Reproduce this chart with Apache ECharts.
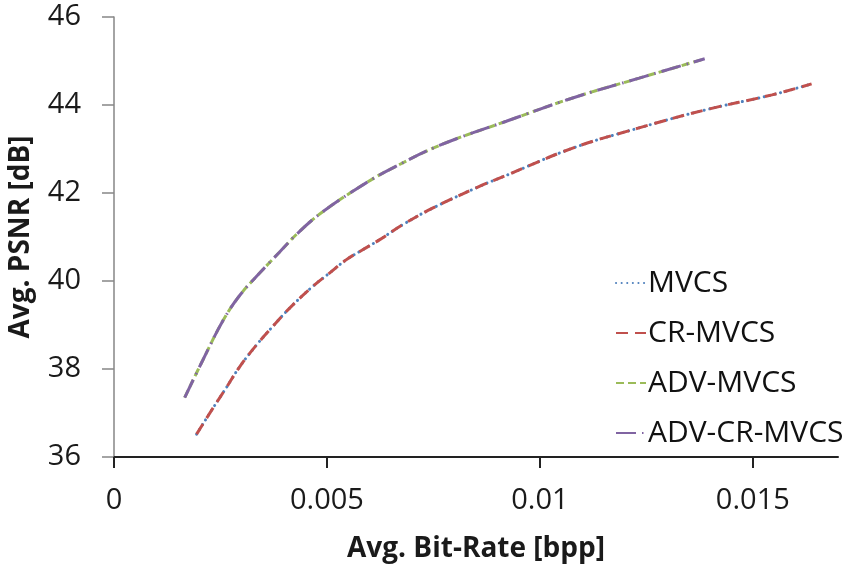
<!DOCTYPE html>
<html>
<head>
<meta charset="utf-8">
<script src="https://cdn.jsdelivr.net/npm/echarts@6/dist/echarts.min.js"></script>
<style>
  html, body { margin: 0; padding: 0; background: #fff; }
  #chart { width: 853px; height: 567px; }
</style>
</head>
<body>
<div id="chart"></div>
<script>
// Rate–distortion curves: average bit-rate (bpp) vs. average PSNR (dB)
const seriesNames = ['MVCS', 'CR-MVCS', 'ADV-MVCS', 'ADV-CR-MVCS'];
const xTickValues = [0, 0.005, 0.01, 0.015];
const yTickValues = [36, 38, 40, 42, 44, 46];

// Baseline schemes
const baseRate = [0.00194, 0.00233, 0.00264, 0.00295, 0.00335, 0.00373, 0.00413, 0.00467,
  0.00506, 0.00545, 0.00584, 0.00624, 0.00678, 0.00749, 0.00858, 0.00921, 0.01077, 0.01233,
  0.01389, 0.01545, 0.01638];
const basePsnr = [36.52, 37.12, 37.58, 38.05, 38.55, 38.97, 39.39, 39.88,
  40.18, 40.48, 40.71, 40.94, 41.28, 41.66, 42.15, 42.40, 43.02, 43.48,
  43.89, 44.23, 44.48];

// Schemes with ADV
const advRate = [0.00166, 0.00209, 0.00256, 0.00295, 0.00342, 0.00389, 0.00436, 0.00491,
  0.00592, 0.00647, 0.00764, 0.00921, 0.01077, 0.01233, 0.01387];
const advPsnr = [37.35, 38.21, 39.10, 39.67, 40.18, 40.66, 41.13, 41.58,
  42.23, 42.53, 43.08, 43.63, 44.16, 44.61, 45.05];

const pairs = (xs, ys) => xs.map((x, i) => [x, ys[i]]);

const FONT = '"Open Sans", "Noto Sans", sans-serif';

const chart = echarts.init(document.getElementById('chart'));
chart.setOption({
  animation: false,
  backgroundColor: '#ffffff',
  grid: { left: 114, right: 15, top: 17, bottom: 110, containLabel: false, outerBoundsMode: 'none' },
  xAxis: {
    type: 'value',
    min: 0,
    max: 0.017,
    interval: 0.005,
    name: 'Avg. Bit-Rate [bpp]',
    nameLocation: 'middle',
    nameGap: 78,
    nameTextStyle: { fontFamily: FONT, fontSize: 28, fontWeight: 'bold', color: '#1a1a1a' },
    axisLine: { lineStyle: { color: '#222', width: 2 } },
    axisTick: { show: true, inside: false, length: 11, customValues: xTickValues,
      lineStyle: { color: '#222', width: 2 } },
    axisLabel: { customValues: xTickValues, margin: 29, fontFamily: FONT, fontSize: 29, color: '#1a1a1a',
      formatter: v => String(v) },
    splitLine: { show: false }
  },
  yAxis: {
    type: 'value',
    min: 36,
    max: 46,
    interval: 2,
    name: 'Avg. PSNR [dB]',
    nameLocation: 'middle',
    nameGap: 79,
    nameRotate: 90,
    nameTextStyle: { fontFamily: FONT, fontSize: 28, fontWeight: 'bold', color: '#1a1a1a' },
    axisLine: { show: true, lineStyle: { color: '#868686', width: 1.5 } },
    axisTick: { show: true, inside: false, length: 12, customValues: yTickValues,
      lineStyle: { color: '#868686', width: 1.5 } },
    axisLabel: { margin: 33, fontFamily: FONT, fontSize: 29, color: '#1a1a1a' },
    splitLine: { show: false }
  },
  legend: {
    orient: 'vertical',
    left: 610,
    top: 263,
    itemWidth: 30,
    itemHeight: 4,
    itemGap: 20,
    icon: 'inherit',
    itemStyle: { opacity: 0 },
    textStyle: { fontFamily: FONT, fontSize: 30, color: '#111', padding: [0, 0, 0, -3] },
    data: seriesNames
  },
  series: [
    {
      name: seriesNames[0], type: 'line', data: pairs(baseRate, basePsnr),
      smooth: 0.4, symbol: 'none', z: 2,
      lineStyle: { color: '#4F81BD', width: 3, type: [0.1, 5.5], cap: 'round' },
      itemStyle: { color: '#4F81BD' }
    },
    {
      name: seriesNames[1], type: 'line', data: pairs(baseRate, basePsnr),
      smooth: 0.4, symbol: 'none', z: 3,
      lineStyle: { color: '#C0504D', width: 3, type: [12, 7], cap: 'butt' },
      itemStyle: { color: '#C0504D' }
    },
    {
      name: seriesNames[2], type: 'line', data: pairs(advRate, advPsnr),
      smooth: 0.4, symbol: 'none', z: 2,
      lineStyle: { color: '#9BBB59', width: 3, type: [8, 4], cap: 'butt' },
      itemStyle: { color: '#9BBB59' }
    },
    {
      name: seriesNames[3], type: 'line', data: pairs(advRate, advPsnr),
      smooth: 0.4, symbol: 'none', z: 3,
      lineStyle: { color: '#8064A2', width: 3, type: [20, 6, 1.5, 6], cap: 'butt' },
      itemStyle: { color: '#8064A2' }
    }
  ]
});
</script>
</body>
</html>
